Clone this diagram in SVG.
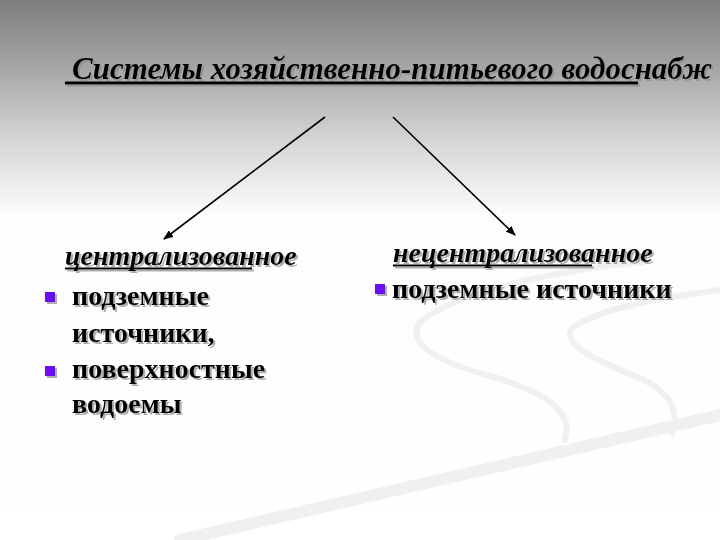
<svg xmlns="http://www.w3.org/2000/svg" width="720" height="540" viewBox="0 0 720 540">
  <defs>
    <linearGradient id="bg" x1="0" y1="0" x2="0" y2="540" gradientUnits="userSpaceOnUse">
      <stop offset="0" stop-color="#7e7e7e"/>
      <stop offset="0.12" stop-color="#a4a4a4"/>
      <stop offset="0.25" stop-color="#d2d2d2"/>
      <stop offset="0.4" stop-color="#fdfdfd"/>
      <stop offset="1" stop-color="#ffffff"/>
    </linearGradient>
    <filter id="sh" x="-5%" y="-30%" width="110%" height="160%">
      <feDropShadow dx="2" dy="2" stdDeviation="0.6" flood-color="#8c8c8c" flood-opacity="0.7"/>
    </filter>
    <marker id="ah" markerWidth="10" markerHeight="8" refX="9" refY="4" orient="auto" markerUnits="userSpaceOnUse">
      <path d="M0,0 L10,4 L0,8 Z" fill="#000"/>
    </marker>
  </defs>
  <style>
    text { font-family: 'Liberation Serif', 'DejaVu Serif', 'Times New Roman', serif; font-weight: bold; fill: #000; }
    .it { font-style: italic; }
    .ul { stroke: #000; }
    .sw { fill: none; stroke: #f0f0f0; stroke-linecap: round; }
    .bul { fill: #6a0af5; }
    .conn { stroke: #000; stroke-width: 1.6; fill: none; }
  </style>
  <rect x="0" y="0" width="720" height="540" fill="url(#bg)"/>
  <g id="background-swooshes">
    <path class="sw" stroke-width="6" d="M643,262 C560,270 460,290 420,322 C405,345 440,362 490,376 C540,390 575,410 565,440"/>
    <path class="sw" stroke-width="6" d="M720,290 C660,298 600,308 572,328 C560,345 600,362 640,378 C670,392 680,410 672,433"/>
    <path class="sw" stroke-width="12" d="M180,540 C350,500 520,460 720,415"/>
  </g>
  <g id="title" filter="url(#sh)">
    <text class="it" x="72" y="79" font-size="31">Системы хозяйственно-питьевого водоснабж</text>
    <line class="ul" x1="65" y1="83" x2="638" y2="83" stroke-width="3"/>
  </g>
  <g id="connectors">
    <line class="conn" x1="325" y1="117" x2="164" y2="239" marker-end="url(#ah)"/>
    <line class="conn" x1="393" y1="117" x2="515" y2="235" marker-end="url(#ah)"/>
  </g>
  <g id="centralized" filter="url(#sh)">
    <text class="it" x="65" y="265" font-size="28">централизованное</text>
    <line class="ul" x1="65" y1="268.5" x2="252" y2="268.5" stroke-width="2"/>
    <rect class="bul" x="45" y="292" width="10" height="10"/>
    <text x="72" y="305" font-size="28">подземные</text>
    <text x="72" y="342" font-size="28">источники,</text>
    <rect class="bul" x="45" y="366" width="10" height="10"/>
    <text x="72" y="378" font-size="28">поверхностные</text>
    <text x="72" y="413" font-size="28">водоемы</text>
  </g>
  <g id="decentralized" filter="url(#sh)">
    <text class="it" x="393" y="262" font-size="28">нецентрализованное</text>
    <line class="ul" x1="393" y1="265.5" x2="592" y2="265.5" stroke-width="2"/>
    <rect class="bul" x="375" y="284" width="10" height="10"/>
    <text x="392" y="298" font-size="28">подземные источники</text>
  </g>
</svg>
